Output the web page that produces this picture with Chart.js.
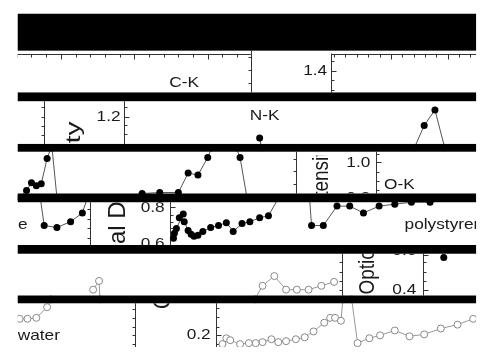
<!DOCTYPE html>
<html>
<head>
<meta charset="utf-8">
<script src="https://cdn.jsdelivr.net/npm/chart.js@4.4.1/dist/chart.umd.min.js"></script>
<style>
html, body { margin: 0; padding: 0; background: #fff; }
canvas { display: block; }
</style>
</head>
<body>
<canvas id="chart" width="485" height="352"></canvas>
<script>
// filled markers (polystyrene pieces), null = new piece
const filledX = [260, 262, null, 418, 428, 439, 449, null,
    15, 22, 27, 32, 37, 43, 47, null, 48, 53, null,
    140, 158, 177, 187, 197, 207, 211, null, 236, 240, 247, null,
    36, 40, 53, 67, 79, 84, null,
    172, 173, 175, 182, 178, 183, 187, 190, 193, 197, 202, 210, 218, 226, 233, 242, 250, 260, 269, 279, null,
    311, 313, 325, 339, 352, 366, 382, 398, 415, 434, 450, null, 448];
const filledY = [137, 147, null, 147, 124, 108, 147, null,
    198, 191, 183, 186, 184, 158, 147, null, 147, 198, null,
    194, 193, 193, 173, 175, 157, 147, null, 147, 157, 198, null,
    198, 227, 229, 223, 214, 199, null,
    240, 235, 230, 215, 219, 223, 232, 236, 238, 237, 233, 229, 227, 224, 233, 225, 223, 219, 217, 199, null,
    199, 227, 227, 207, 207, 214, 207, 205, 203, 203, 199, null, 260];

// open markers (water pieces)
const openX = [90, 96, 97, null,
    255, 263, 275, 287, 298, 310, 323, 336, null,
    15, 23, 32, 43, 47, null,
    222, 226, 230, 240, 249, 256, 263, 272, 279, 287, 297, 306, 315, 326, 332, 337, 343, 345, null,
    354, 360, 372, 383, 398, 413, 428, 445, 462, 478, 490];
const openY = [293, 284, 303, null,
    303, 289, 279, 293, 293, 293, 289, 285, null,
    323, 323, 322, 311, 303, null,
    349, 343, 345, 349, 348, 348, 347, 344, 347, 346, 344, 342, 336, 327, 322, 322, 325, 303, null,
    303, 348, 343, 340, 335, 341, 339, 333, 329, 323, 318];

const panelLabels = ['C-K', 'N-K', 'O-K', 'polystyrene', 'water'];
const tickLabels = ['1.4', '1.2', '1.0', '0.8', '0.8', '0.6', '0.6', '0.4', '0.2'];
const axisTitles = ['Intensity', 'Optical Density'];

// layout of the cut-up strips
const bandTop = [9, 90, 143, 194, 247, 299];
const bandBottom = [47, 99, 151, 203, 256, 307];
const strips = [[47, 90], [99, 143], [151, 194], [203, 247], [256, 299], [307, 352]];
const LEFT = 13, RIGHT = 481;

const labelSpots = [
    { t: panelLabels[0], x: 183, y: 80, a: 'center', s: 0 },
    { t: tickLabels[0], x: 329, y: 68, a: 'right', s: 0 },
    { t: tickLabels[1], x: 118, y: 115, a: 'right', s: 1 },
    { t: panelLabels[1], x: 265, y: 114, a: 'center', s: 1 },
    { t: tickLabels[2], x: 373, y: 162, a: 'right', s: 2 },
    { t: panelLabels[2], x: 387, y: 185, a: 'left', s: 2 },
    { t: tickLabels[3], x: 373, y: 199, a: 'right', s: 2 },
    { t: panelLabels[3], x: 23, y: 226, a: 'right', s: 3 },
    { t: tickLabels[4], x: 163, y: 209, a: 'right', s: 3 },
    { t: tickLabels[5], x: 163, y: 246, a: 'right', s: 3 },
    { t: panelLabels[3], x: 408, y: 226, a: 'left', s: 3 },
    { t: tickLabels[6], x: 420, y: 253, a: 'right', s: 4 },
    { t: tickLabels[7], x: 420, y: 293, a: 'right', s: 4 },
    { t: panelLabels[4], x: 13, y: 341, a: 'left', s: 5 },
    { t: tickLabels[8], x: 210, y: 340, a: 'right', s: 5 }
];

// fs = font px, sx = stretch across the text, sy = stretch along it
const titleSpots = [
    { t: axisTitles[0], x: 71, y: 120, a: 'right', s: 1, fs: 21, sx: 1, sy: 1.33, bottom: 142 },
    { t: axisTitles[0], x: 323, y: 192, skip: 'Int', s: 2, top: 155, fs: 19, sx: 1.2, sy: 1 },
    { t: axisTitles[1], x: 116, y: 246, skip: 'Optic', s: 3, fs: 24, sx: 1, sy: 1 },
    { t: axisTitles[1], x: 370, y: 298, s: 4, fs: 19, sx: 1.2, sy: 1 },
    { t: axisTitles[1], x: 162, y: 313, s: 5, fs: 21, sx: 1.1, sy: 1 }
];

// vertical axis pieces: dir -1 = ticks to the left, 1 = to the right
const vAxes = [
    { x: 251, s: 0, y0: 47, dir: -1, minor: [54, 67, 80], major: [] },
    { x: 333, s: 0, y0: 50, dir: 1, minor: [58, 77, 87], major: [68] },
    { x: 40, s: 1, dir: -1, minor: [105, 115, 125, 134], major: [] },
    { x: 122, s: 1, dir: 1, minor: [105, 124, 133], major: [115] },
    { x: 297, s: 2, dir: -1, minor: [158, 171, 184], major: [] },
    { x: 379, s: 2, dir: 1, minor: [153, 172, 181, 190], major: [162] },
    { x: 87, s: 3, dir: -1, minor: [210, 220, 230, 240], major: [] },
    { x: 168, s: 3, dir: 1, minor: [216, 223, 230, 237], major: [208] },
    { x: 344, s: 4, dir: -1, minor: [265, 275, 284, 293], major: [] },
    { x: 427, s: 4, dir: 1, minor: [265, 275, 284], major: [257, 293] },
    { x: 133, s: 5, dir: -1, minor: [313, 322, 331, 340, 349], major: [] },
    { x: 215, s: 5, dir: 1, minor: [312, 321, 331, 349], major: [340] }
];

function pieces(xs, ys) {
    const out = [];
    let cur = [];
    xs.forEach(function(x, i) {
        if (x === null) {
            out.push(cur);
            cur = [];
        } else {
            cur.push({ x: x, y: ys[i] });
        }
    });
    out.push(cur);
    return out;
}

const datasets = [];
pieces(filledX, filledY).forEach(function(p) {
    datasets.push({
        data: p,
        borderColor: '#555',
        borderWidth: 1,
        pointRadius: 3.5,
        pointBackgroundColor: '#000',
        pointBorderColor: '#000',
        pointBorderWidth: 0,
        tension: 0
    });
});
pieces(openX, openY).forEach(function(p) {
    datasets.push({
        data: p,
        borderColor: '#999',
        borderWidth: 1,
        pointRadius: 3.5,
        pointBackgroundColor: '#fff',
        pointBorderColor: '#888',
        pointBorderWidth: 1,
        tension: 0
    });
});

const FAMILY = '"Liberation Sans", Arial, sans-serif';
const FONT = '15px ' + FAMILY;

const collage = {
    id: 'collage',
    beforeDatasetsDraw(chart) {
        const ctx = chart.ctx;
        const X = v => chart.scales.x.getPixelForValue(v);
        const Y = v => chart.scales.y.getPixelForValue(v);

        ctx.save();
        ctx.beginPath();
        ctx.rect(X(LEFT), 0, X(RIGHT) - X(LEFT), chart.height);
        ctx.clip();

        // axis lines and ticks
        ctx.strokeStyle = '#333';
        ctx.lineWidth = 1;
        vAxes.forEach(function(ax) {
            const x = Math.round(X(ax.x)) + 0.5;
            const y0 = ax.y0 !== undefined ? ax.y0 : strips[ax.s][0];
            ctx.beginPath();
            ctx.moveTo(x, Y(y0));
            ctx.lineTo(x, Y(strips[ax.s][1]));
            ax.minor.forEach(function(t) {
                ctx.moveTo(x, Math.round(Y(t)) + 0.5);
                ctx.lineTo(x + ax.dir * 3, Math.round(Y(t)) + 0.5);
            });
            ax.major.forEach(function(t) {
                ctx.moveTo(x, Math.round(Y(t)) + 0.5);
                ctx.lineTo(x + ax.dir * 5, Math.round(Y(t)) + 0.5);
            });
            ctx.stroke();
        });

        // top axis of the first strip
        const yTop = Math.round(Y(50)) + 0.5;
        ctx.beginPath();
        ctx.moveTo(X(LEFT), yTop);
        ctx.lineTo(X(251), yTop);
        ctx.moveTo(X(333), yTop);
        ctx.lineTo(X(RIGHT), yTop);
        for (let i = 0; i < 16; i++) {
            const tx = Math.round(X(12 + i * 15)) + 0.5;
            ctx.moveTo(tx, yTop);
            ctx.lineTo(tx, yTop + (i % 5 === 3 ? 5 : 3));
        }
        for (let i = 0; i < 13; i++) {
            const tx = Math.round(X(336 + i * 11.6)) + 0.5;
            if (tx > X(RIGHT)) break;
            ctx.moveTo(tx, yTop);
            ctx.lineTo(tx, yTop + (i % 5 === 0 && i > 0 ? 5 : 3));
        }
        ctx.stroke();

        // panel and tick labels
        ctx.fillStyle = '#1a1a1a';
        ctx.textBaseline = 'middle';
        labelSpots.forEach(function(l) {
            const st = strips[l.s];
            ctx.save();
            ctx.beginPath();
            ctx.rect(0, Y(st[0]), chart.width, Y(st[1]) - Y(st[0]));
            ctx.clip();
            ctx.font = FONT;
            ctx.textAlign = l.a;
            ctx.translate(X(l.x), Y(l.y));
            ctx.scale(1.15, 1);
            ctx.fillText(l.t, 0, 0);
            ctx.restore();
        });

        // rotated axis titles, cut by the strips
        titleSpots.forEach(function(l) {
            const st = strips[l.s];
            const top = l.top !== undefined ? l.top : st[0];
            const bottom = l.bottom !== undefined ? l.bottom : st[1];
            ctx.save();
            ctx.beginPath();
            ctx.rect(0, Y(top), chart.width, Y(bottom) - Y(top));
            ctx.clip();
            ctx.font = l.fs + 'px ' + FAMILY;
            ctx.textAlign = l.a || 'left';
            const off = l.skip ? ctx.measureText(l.skip).width * l.sy : 0;
            ctx.translate(X(l.x), Y(l.y) + off);
            ctx.scale(l.sx, l.sy);
            ctx.rotate(-Math.PI / 2);
            ctx.fillText(l.t, 0, 0);
            ctx.restore();
        });
        ctx.restore();

        // keep the marks inside the collage
        ctx.save();
        ctx.beginPath();
        ctx.rect(X(LEFT), 0, X(RIGHT) - X(LEFT), chart.height);
        ctx.clip();
    },
    afterDatasetsDraw(chart) {
        const ctx = chart.ctx;
        const X = v => chart.scales.x.getPixelForValue(v);
        const Y = v => chart.scales.y.getPixelForValue(v);
        ctx.restore();

        // black bands across the strips
        ctx.save();
        ctx.fillStyle = '#000';
        bandTop.forEach(function(t, i) {
            ctx.fillRect(X(LEFT), Y(t), X(RIGHT) - X(LEFT), Y(bandBottom[i]) - Y(t));
        });
        ctx.restore();
    }
};

new Chart(document.getElementById('chart').getContext('2d'), {
    type: 'line',
    data: { datasets: datasets },
    options: {
        responsive: false,
        animation: false,
        devicePixelRatio: 1,
        layout: { padding: 0 },
        scales: {
            x: { type: 'linear', min: 0, max: 485, display: false },
            y: { type: 'linear', min: 0, max: 352, reverse: true, display: false }
        },
        plugins: {
            legend: { display: false },
            tooltip: { enabled: false }
        }
    },
    plugins: [collage]
});
</script>
</body>
</html>
